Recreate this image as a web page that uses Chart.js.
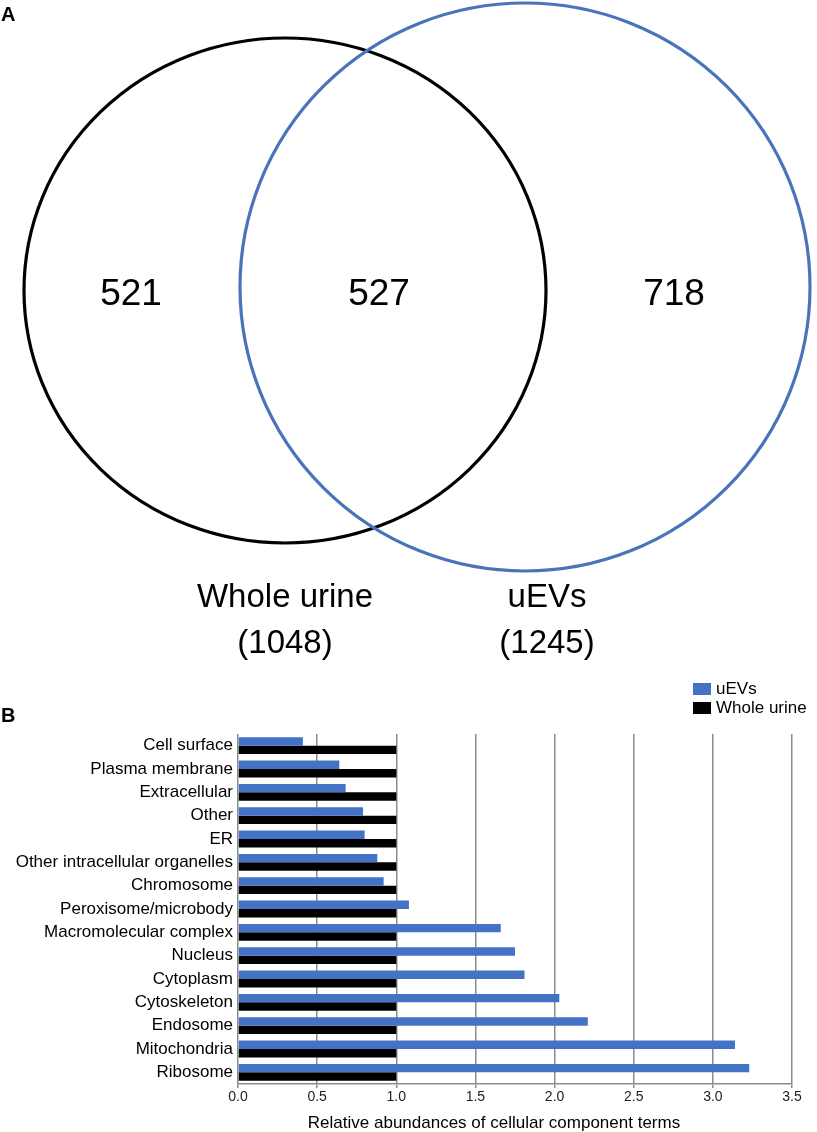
<!DOCTYPE html>
<html>
<head>
<meta charset="utf-8">
<script src="https://cdn.jsdelivr.net/npm/chart.js@4.4.0/dist/chart.umd.min.js"></script>
<style>
  html, body { margin: 0; padding: 0; background: #fff; }
  .box { position: absolute; left: 0; width: 817px; }
</style>
</head>
<body>
<div class="box" style="top:0;height:670px"><canvas id="venn"></canvas></div>
<div class="box" style="top:670px;height:462px"><canvas id="bars"></canvas></div>
<script>
// panel A data
const setNames = ["Whole urine", "uEVs"];
const setTotals = [1048, 1245];
const regionCounts = [521, 527, 718]; // whole urine only, shared, uEVs only

// panel B data
const categories = [
  "Cell surface", "Plasma membrane", "Extracellular", "Other", "ER",
  "Other intracellular organelles", "Chromosome", "Peroxisome/microbody",
  "Macromolecular complex", "Nucleus", "Cytoplasm", "Cytoskeleton",
  "Endosome", "Mitochondria", "Ribosome"
];
const uevValues = [0.41, 0.64, 0.68, 0.79, 0.80, 0.88, 0.92, 1.08, 1.66, 1.75, 1.81, 2.03, 2.21, 3.14, 3.23];
const wholeUrineValues = [1, 1, 1, 1, 1, 1, 1, 1, 1, 1, 1, 1, 1, 1, 1];
const xTicks = [0, 0.5, 1.0, 1.5, 2.0, 2.5, 3.0, 3.5];
const xTitle = "Relative abundances of cellular component terms";

const blue = "#4472c4";
const font = "'Liberation Sans', Arial, sans-serif";
Chart.defaults.font.family = font;
Chart.defaults.color = "#000";

// venn geometry, in the same units as the hidden scales
const vennShapes = [
  { cx: 285, cy: 290.5, rx: 261, ry: 252.5, color: "#000" },
  { cx: 525, cy: 287, rx: 285, ry: 284, color: "#4a74b9" }
];
const countX = [131, 379, 674];
const nameX = [285, 547];

const vennPlugin = {
  id: "vennPlugin",
  afterDatasetsDraw(chart) {
    const { ctx, scales: { x, y } } = chart;
    chart.data.datasets.forEach((ds, i) => {
      const pt = chart.getDatasetMeta(i).data[0];
      const s = vennShapes[i];
      const rx = Math.abs(x.getPixelForValue(s.cx + s.rx) - pt.x);
      const ry = Math.abs(y.getPixelForValue(s.cy + s.ry) - pt.y);
      ctx.save();
      ctx.beginPath();
      ctx.ellipse(pt.x, pt.y, rx, ry, 0, 0, Math.PI * 2);
      ctx.lineWidth = 3.2;
      ctx.strokeStyle = ds.borderColor;
      ctx.stroke();
      ctx.restore();
    });

    ctx.save();
    ctx.fillStyle = "#000";
    ctx.textAlign = "center";
    ctx.textBaseline = "alphabetic";
    ctx.font = "37px " + font;
    regionCounts.forEach((n, i) => {
      ctx.fillText(String(n), x.getPixelForValue(countX[i]), y.getPixelForValue(305));
    });
    ctx.font = "33px " + font;
    setNames.forEach((name, i) => {
      ctx.fillText(name, x.getPixelForValue(nameX[i]), y.getPixelForValue(607));
      ctx.fillText("(" + setTotals[i] + ")", x.getPixelForValue(nameX[i]), y.getPixelForValue(653));
    });
    ctx.textAlign = "left";
    ctx.font = "bold 20px " + font;
    ctx.fillText("A", 1, 21);
    ctx.restore();
  }
};

new Chart(document.getElementById("venn"), {
  type: "scatter",
  data: {
    datasets: setNames.map((name, i) => ({
      label: name,
      data: [{ x: vennShapes[i].cx, y: vennShapes[i].cy }],
      borderColor: vennShapes[i].color,
      pointRadius: 0
    }))
  },
  options: {
    responsive: true,
    maintainAspectRatio: false,
    animation: false,
    layout: { padding: 0 },
    plugins: { legend: { display: false }, tooltip: { enabled: false } },
    scales: {
      x: { type: "linear", min: 0, max: 817, display: false },
      y: { type: "linear", min: 0, max: 670, reverse: true, display: false }
    }
  },
  plugins: [vennPlugin]
});

// legend, axis title and panel letter for B
const barExtras = {
  id: "barExtras",
  afterDraw(chart) {
    const { ctx } = chart;
    ctx.save();
    ctx.font = "17px " + font;
    ctx.textBaseline = "middle";
    ctx.textAlign = "left";
    chart.data.datasets.forEach((ds, i) => {
      const top = 13 + i * 19;
      ctx.fillStyle = ds.backgroundColor;
      ctx.fillRect(693, top, 18, 12);
      ctx.fillStyle = "#000";
      ctx.fillText(ds.label, 716, top + 6.5);
    });
    ctx.textAlign = "center";
    ctx.fillText(xTitle, 494, 453);
    ctx.textAlign = "left";
    ctx.textBaseline = "alphabetic";
    ctx.font = "bold 20px " + font;
    ctx.fillText("B", 1, 52);
    ctx.restore();
  }
};

new Chart(document.getElementById("bars"), {
  type: "bar",
  data: {
    labels: categories,
    datasets: [
      { label: "uEVs", data: uevValues, backgroundColor: blue, barPercentage: 1, categoryPercentage: 0.72 },
      { label: "Whole urine", data: wholeUrineValues, backgroundColor: "#000000", barPercentage: 1, categoryPercentage: 0.72 }
    ]
  },
  options: {
    indexAxis: "y",
    responsive: true,
    maintainAspectRatio: false,
    animation: false,
    layout: { padding: { top: 64, right: 25, left: 0, bottom: 0 } },
    plugins: { legend: { display: false }, tooltip: { enabled: false } },
    scales: {
      x: {
        min: 0,
        max: 3.5,
        afterBuildTicks(s) { s.ticks = xTicks.map(v => ({ value: v })); },
        ticks: { callback: v => Number(v).toFixed(1), font: { size: 14 }, color: "#222", padding: 1, maxRotation: 0 },
        grid: { color: "#8c8c8c", lineWidth: 1.5, tickLength: 4 },
        border: { color: "#8c8c8c", width: 1.5 },
        afterFit(s) { s.height = 48; }
      },
      y: {
        grid: { display: false, drawTicks: false },
        border: { display: false },
        ticks: { font: { size: 17 }, color: "#000", padding: 5, autoSkip: false },
        afterFit(s) { s.width = 238; }
      }
    }
  },
  plugins: [barExtras]
});
</script>
</body>
</html>
